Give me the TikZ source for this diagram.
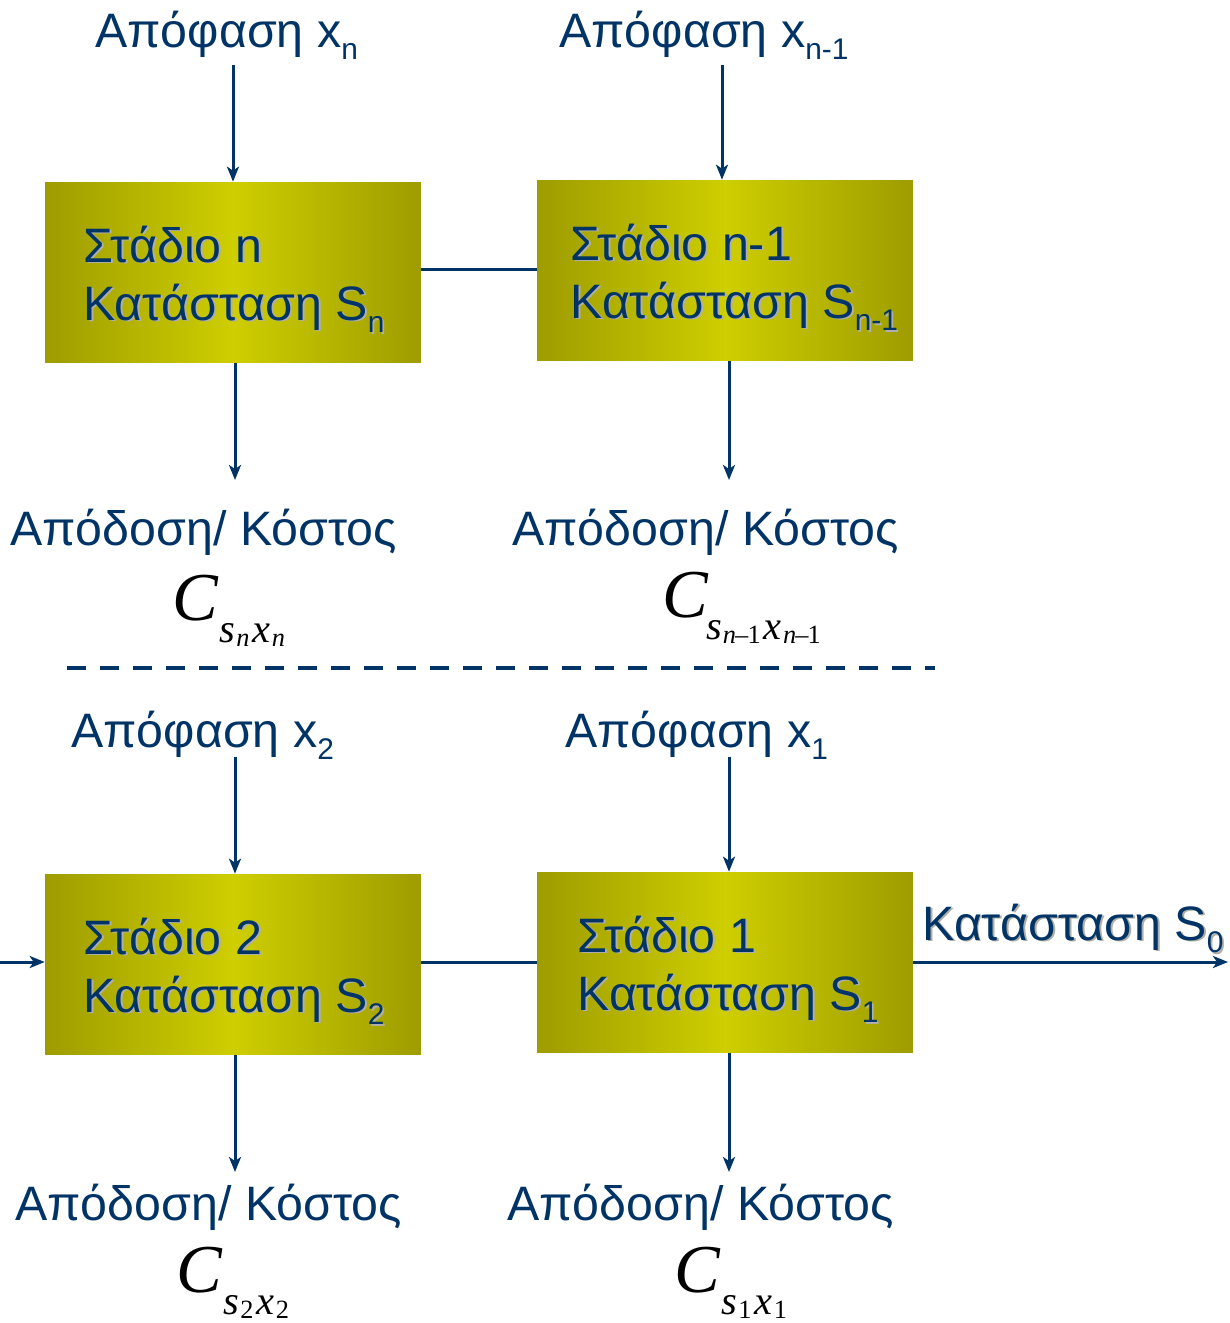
\documentclass[tikz,border=0pt]{standalone}
\usepackage{fontspec}
\setmainfont{Liberation Sans}
\newfontfamily\timesfont{Liberation Serif}
\usetikzlibrary{arrows.meta}
\definecolor{navy}{RGB}{0,51,102}
\definecolor{olivedark}{RGB}{158,156,0}
\definecolor{olivebright}{RGB}{206,206,0}
\definecolor{shadowgray}{RGB}{175,175,165}
% subscript in the sans labels
\newcommand\sub[1]{\raisebox{-0.25cm}{\fontsize{17}{17}\selectfont #1}}
% grey drop shadow behind box texts
\newcommand\shad[1]{\rlap{\kern1.1pt\raisebox{-1.1pt}{\color{shadowgray}#1}}#1}
% cost label C_{s x}, #1 is the gap after C
\newcommand\cost[3]{{\timesfont\itshape\fontsize{39}{39}\selectfont C}\kern#1\raisebox{-0.44cm}{\timesfont\itshape\fontsize{23}{23}\selectfont s\kern0.5pt\raisebox{-0.08cm}{\fontsize{15}{15}\selectfont #2}\kern1.5pt x\kern1pt\raisebox{-0.08cm}{\fontsize{15}{15}\selectfont #3}}}
\tikzset{
  stagebox/.style={minimum width=7.52cm, minimum height=3.62cm, inner sep=0pt,
    left color=olivedark, right color=olivedark, middle color=olivebright},
  lbl/.style={anchor=base west, inner sep=0pt, text=navy, font=\fontsize{27.5}{27.5}\selectfont},
  boxtxt/.style={lbl},
  costlbl/.style={anchor=base west, inner sep=0pt, text=black},
  arr/.style={draw=navy, line width=0.06cm, -{Stealth[length=0.3cm,width=0.24cm,inset=0.08cm]}},
  link/.style={draw=navy, line width=0.06cm}
}
\begin{document}
\begin{tikzpicture}[x=0.02cm,y=-0.02cm]
  \useasboundingbox (0,0) rectangle (1230,1323);
  % stages
  \node[stagebox] (b1) at (233,272.5) {};
  \node[stagebox] (b2) at (725,270.5) {};
  \node[stagebox] (b3) at (233,964.5) {};
  \node[stagebox] (b4) at (725,962.5) {};
  \node[boxtxt] (b1a) at (83,262) {\shad{Στάδιο n}};
  \node[boxtxt] (b1b) at (83,320) {\shad{Κατάσταση S\sub{n}}};
  \node[boxtxt] (b2a) at (570,260) {\shad{Στάδιο n-1}};
  \node[boxtxt] (b2b) at (570,318) {\shad{Κατάσταση S\sub{n-1}}};
  \node[boxtxt] (b3a) at (83,954) {\shad{Στάδιο 2}};
  \node[boxtxt] (b3b) at (83,1012) {\shad{Κατάσταση S\sub{2}}};
  \node[boxtxt] (b4a) at (577,952) {\shad{Στάδιο 1}};
  \node[boxtxt] (b4b) at (577,1010) {\shad{Κατάσταση S\sub{1}}};
  % decisions
  \node[lbl] (d1) at (95,47) {Απόφαση x\sub{n}};
  \node[lbl] (d2) at (559,47) {Απόφαση x\sub{n-1}};
  \node[lbl] (d3) at (71,747) {Απόφαση x\sub{2}};
  \node[lbl] (d4) at (565,747) {Απόφαση x\sub{1}};
  \coordinate (t1) at (233,65);
  \coordinate (t2) at (722,65);
  \coordinate (t3) at (235,757);
  \coordinate (t4) at (729,757);
  \draw[arr] (t1) -- (t1 |- b1.north);
  \draw[arr] (t2) -- (t2 |- b2.north);
  \draw[arr] (t3) -- (t3 |- b3.north);
  \draw[arr] (t4) -- (t4 |- b4.north);
  % returns
  \node[lbl] (r1) at (10,545) {Απόδοση/ Κόστος};
  \node[lbl] (r2) at (512,545) {Απόδοση/ Κόστος};
  \node[lbl] (r3) at (15,1220) {Απόδοση/ Κόστος};
  \node[lbl] (r4) at (507,1220) {Απόδοση/ Κόστος};
  \coordinate (o1) at (235,480);
  \coordinate (o2) at (729,480);
  \coordinate (o3) at (235,1172);
  \coordinate (o4) at (729,1172);
  \draw[arr] (o1 |- b1.south) -- (o1);
  \draw[arr] (o2 |- b2.south) -- (o2);
  \draw[arr] (o3 |- b3.south) -- (o3);
  \draw[arr] (o4 |- b4.south) -- (o4);
  \node[costlbl] (c1) at (172,620) {\cost{1pt}{n}{n}};
  \node[costlbl] (c2) at (662,617) {\cost{-1pt}{n{\upshape\kern-0.5pt\textendash\kern-0.5pt1}}{n{\upshape\kern-0.5pt\textendash\kern-0.5pt1}}};
  \node[costlbl] (c3) at (176,1292) {\cost{1pt}{\upshape 2}{\upshape 2}};
  \node[costlbl] (c4) at (674,1292) {\cost{1pt}{\upshape 1}{\upshape 1}};
  % links between stages
  \draw[link] (b1.east |- 0,269) -- (b2.west |- 0,269);
  \draw[link] (b3.east |- 0,962) -- (b4.west |- 0,962);
  \coordinate (in3) at (0,962);
  \coordinate (out4) at (1228,962);
  \draw[arr] (in3) -- (in3 -| b3.west);
  \draw[arr] (out4 -| b4.east) -- (out4);
  \node[lbl] (s0) at (922,940) {\shad{Κατάσταση S\sub{0}}};
  % separator
  \coordinate (sepl) at (67,668);
  \coordinate (sepr) at (935,668);
  \draw[navy, line width=0.08cm, dash pattern=on 0.38cm off 0.28cm] (sepl) -- (sepr);
\end{tikzpicture}
\end{document}
